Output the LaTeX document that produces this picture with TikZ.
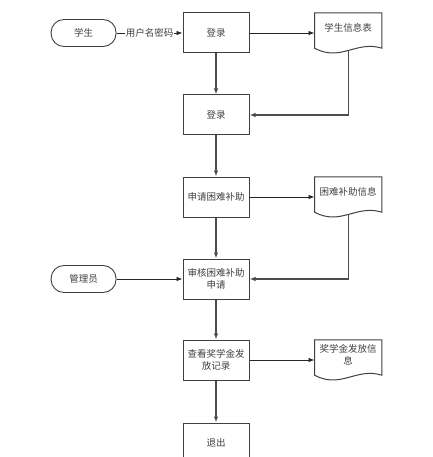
\documentclass[tikz,border=0pt]{standalone}
\usepackage{fontspec}
\setmainfont{Noto Sans CJK SC}
\usetikzlibrary{arrows.meta,positioning}

\begin{document}
\begin{tikzpicture}[x=1pt,y=1pt,>={Latex[length=6pt,width=4.5pt]},node distance=41pt and 65pt,
  font=\fontsize{9.5}{12.5}\selectfont,
  box node/.style={rectangle,draw=black!75,line width=1pt,text=black!75,minimum width=66pt,minimum height=40pt,align=center},
  end node/.style={rectangle,rounded corners=13pt,draw=black!75,line width=0.9pt,text=black!75,minimum width=65pt,minimum height=27pt},
  doc node/.style={rectangle,text=black!75,minimum width=67pt,minimum height=30pt,align=center},
  down/.style={->,draw=black!70,line width=1.4pt},
  flow/.style={->,draw=black!85,line width=0.8pt}]
\useasboundingbox (0,0) rectangle (432,-457);
\node[box node] (dl1) at (216,-33) {登录};
\node[end node] (stu) [left=66pt of dl1] {学生};
\node[doc node] (xsb) [right=of dl1,yshift=5pt] {学生信息表};
\node[box node] (dl2) [below=of dl1] {登录};
\node[box node] (sq) [below=of dl2] {申请困难补助};
\node[doc node] (knb) [right=of sq,yshift=5pt] {困难补助信息};
\node[box node] (sh) [below=of sq] {审核困难补助\\申请};
\node[end node] (gly) [left=66pt of sh] {管理员};
\node[box node] (ck) [below=40pt of sh] {查看奖学金发\\放记录};
\node[doc node] (jxj) [right=of ck,yshift=5pt] {奖学金发放信\\息};
\node[box node] (tc) [below=42pt of ck] {退出};
% document outlines with wavy bottom
\foreach \d in {xsb,knb,jxj}
  \draw[black!75,line width=1pt] (\d.north west) -- (\d.north east) -- ([yshift=-5pt]\d.south east)
    .. controls ([shift={(-26pt,3pt)}]\d.south east) and ([shift={(-41pt,-19pt)}]\d.south east) .. ([yshift=-5pt]\d.south west) -- cycle;
\path
  (stu) edge[flow] node[fill=white,inner sep=1pt,text=black!75] {用户名密码} (dl1)
  (dl1) edge[flow] (dl1 -| xsb.west)
  (sq) edge[flow] (sq -| knb.west)
  (ck) edge[flow] (ck -| jxj.west)
  (gly) edge[flow] (sh)
  (dl1) edge[down] (dl2)
  (dl2) edge[down] (sq)
  (sq) edge[down] (sh)
  (sh) edge[down] (ck)
  (ck) edge[down] (tc);
\draw[down] ([yshift=-7pt]xsb.south) |- (dl2);
\draw[down] ([yshift=-7pt]knb.south) |- (sh);
\end{tikzpicture}
\end{document}
